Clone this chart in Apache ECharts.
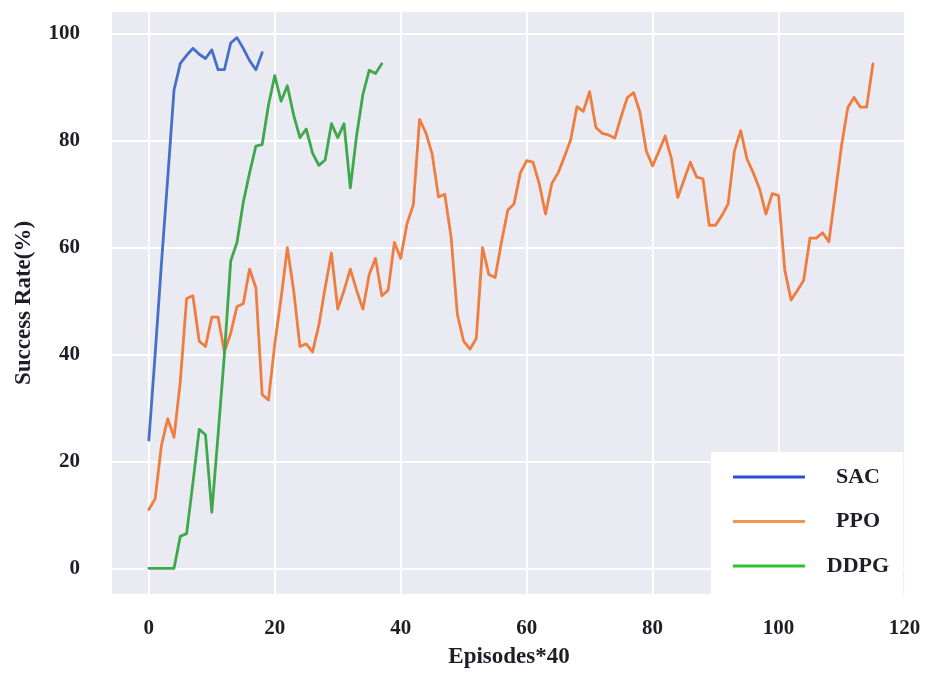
<!DOCTYPE html>
<html>
<head>
<meta charset="utf-8">
<title>Success Rate</title>
<script src="https://cdn.jsdelivr.net/npm/echarts@6/dist/echarts.min.js"></script>
<style>
  html, body { margin: 0; padding: 0; background: #ffffff; }
  #chart { width: 925px; height: 674px; }
</style>
</head>
<body>
<div id="chart"></div>
<script>
// Success rate (%) per evaluation step (one step = 40 episodes)
const sacRate = [24, 40, 57, 73, 89.5, 94.5, 96, 97.3, 96.2, 95.4, 97, 93.3, 93.3, 98.3, 99.3, 97.3, 95, 93.3, 96.5];

const ppoRate = [
  11, 13, 23, 28, 24.5, 35, 50.5, 51, 42.5, 41.5,
  47, 47, 40.5, 44, 49, 49.5, 56, 52.5, 32.5, 31.5,
  42, 50.5, 60, 52, 41.5, 42, 40.5, 45.5, 52.5, 59,
  48.5, 52, 56, 52, 48.5, 55, 58, 51, 52, 61,
  58, 64.5, 68, 84, 81.5, 77.5, 69.5, 70, 62, 47.5,
  42.5, 41, 43, 60, 55, 54.4, 61, 67, 68.2, 74,
  76.3, 76, 72, 66.3, 72, 74, 77, 80.2, 86.4, 85.5,
  89.2, 82.5, 81.4, 81.1, 80.5, 84.5, 88.1, 89, 85.3, 78.1,
  75.3, 78, 80.9, 76.6, 69.4, 72.7, 76, 73.2, 72.9, 64.2,
  64.2, 66, 68.2, 78.1, 81.9, 76.6, 74, 71, 66.3, 70.1,
  69.8, 55.8, 50.2, 52, 53.9, 61.8, 61.8, 62.8, 61.1, 70,
  79, 86.2, 88.1, 86.3, 86.3, 94.4
];

const ddpgRate = [
  0, 0, 0, 0, 0, 6, 6.5, 16, 26, 25,
  10.5, 25, 40, 57.5, 61, 68.5, 74, 79, 79.3, 86.7,
  92.2, 87.4, 90.3, 84.8, 80.6, 82.2, 77.7, 75.4, 76.4, 83.2,
  80.6, 83.2, 71.2, 81, 88.7, 93.2, 92.6, 94.4
];

const seriesNames = ['SAC', 'PPO', 'DDPG'];
const xTicks = [0, 20, 40, 60, 80, 100, 120];
const yTicks = [0, 20, 40, 60, 80, 100];

const lineColors = ['#4470c8', '#ee7d3f', '#3ea84c'];
const legendColors = ['#2a4fd8', '#f5964a', '#2cc42c'];

const toPoints = arr => arr.map((v, i) => [i, v]);
const seriesData = [sacRate, ppoRate, ddpgRate];

const serif = '"Liberation Serif", "Times New Roman", serif';
const textColor = '#1e1e28';

const chart = echarts.init(document.getElementById('chart'), null, { renderer: 'canvas' });

chart.setOption({
  animation: false,
  backgroundColor: '#ffffff',
  grid: {
    left: 112, right: 19, top: 12, bottom: 74,
    show: true,
    backgroundColor: '#eaeaf2',
    borderWidth: 0
  },
  xAxis: {
    type: 'value',
    min: -5.85,
    max: 120.25,
    name: 'Episodes*40',
    nameLocation: 'middle',
    nameGap: 52,
    nameTextStyle: { fontFamily: serif, fontWeight: 'bold', fontSize: 23, color: textColor },
    axisLine: { show: false },
    axisTick: { show: false, customValues: xTicks },
    axisLabel: {
      customValues: xTicks,
      margin: 24,
      fontFamily: serif, fontWeight: 'bold', fontSize: 21, color: textColor
    },
    splitLine: { show: true, lineStyle: { color: '#ffffff', width: 1.8 } }
  },
  yAxis: {
    type: 'value',
    min: -4.8,
    max: 104.1,
    name: 'Success Rate(%)',
    nameLocation: 'middle',
    nameGap: 76,
    nameTextStyle: { fontFamily: serif, fontWeight: 'bold', fontSize: 23, color: textColor },
    axisLine: { show: false },
    axisTick: { show: false, customValues: yTicks },
    axisLabel: {
      customValues: yTicks,
      margin: 32,
      fontFamily: serif, fontWeight: 'bold', fontSize: 21, color: textColor
    },
    splitLine: { show: true, lineStyle: { color: '#ffffff', width: 1.8 } }
  },
  legend: {
    orient: 'vertical',
    left: 711,
    top: 452,
    backgroundColor: '#ffffff',
    padding: [14, 14, 21, 22],
    itemWidth: 72,
    itemHeight: 3,
    itemGap: 22.5,
    selectedMode: false,
    formatter: '{c|{name}}',
    textStyle: {
      fontFamily: serif, fontWeight: 'bold', fontSize: 22, color: textColor,
      lineHeight: 22,
      rich: {
        c: {
          fontFamily: serif, fontWeight: 'bold', fontSize: 22, color: textColor,
          width: 60, align: 'center', padding: [0, 0, 0, 18], lineHeight: 22
        }
      }
    },
    data: seriesNames.map((name, i) => ({
      name: name,
      icon: 'rect',
      itemStyle: { color: legendColors[i] }
    }))
  },
  series: seriesNames.map((name, i) => ({
    name: name,
    type: 'line',
    data: toPoints(seriesData[i]),
    showSymbol: false,
    symbol: 'none',
    color: lineColors[i],
    lineStyle: { color: lineColors[i], width: 2.8, join: 'round', cap: 'round' },
    z: 2 + i
  }))
});
</script>
</body>
</html>
